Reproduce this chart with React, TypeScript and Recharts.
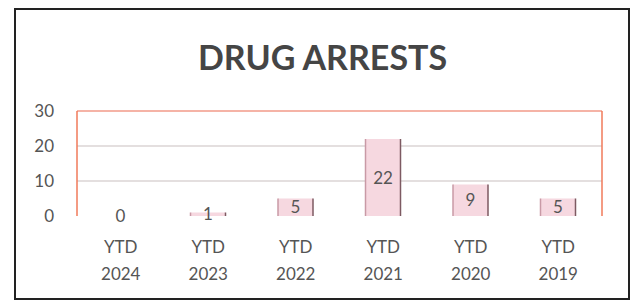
import { BarChart, Bar, XAxis, YAxis, CartesianGrid, ReferenceLine, LabelList } from "recharts";

const years = ["2024", "2023", "2022", "2021", "2020", "2019"];
const prefix = "YTD";
const arrests = [0, 1, 5, 22, 9, 5];
const yTicks = [0, 10, 20, 30];

const data = years.map((y, i) => ({ year: y, arrests: arrests[i] }));

const FONT = "Lato, 'Open Sans', sans-serif";
const TEXT = "#555555";
const ORANGE = "#f07a5a";

function YearTick({ x, y, payload }: any) {
  return (
    <text x={x} y={y} textAnchor="middle" fill={TEXT} fontFamily={FONT} fontSize={17}>
      <tspan x={x} dy={29}>{prefix}</tspan>
      <tspan x={x} dy={27}>{payload.value}</tspan>
    </text>
  );
}

function PinkBar({ x, y, width, height }: any) {
  if (!height || height <= 0) return <g />;
  return (
    <g>
      <rect x={x} y={y} width={width} height={height} fill="#f6d8e0" />
      <line x1={x} y1={y} x2={x} y2={y + height} stroke="#c99aa6" strokeWidth={1.5} />
      <line x1={x + width} y1={y} x2={x + width} y2={y + height} stroke="#7d5a62" strokeWidth={1.5} />
    </g>
  );
}

export default function App() {
  return (
    <div style={{ position: "fixed", left: 0, top: 0, width: 633, height: 302, background: "#fff" }}>
      <div
        style={{
          position: "absolute",
          left: 0,
          width: 633,
          top: 37,
          textAlign: "center",
          fontFamily: FONT,
          fontWeight: 700,
          fontSize: 34,
          lineHeight: "40px",
          color: "#454545",
          paddingLeft: 12,
          boxSizing: "border-box",
        }}
      >
        DRUG ARRESTS
      </div>
      <div style={{ position: "absolute", left: 0, top: 0 }}>
        <BarChart width={633} height={302} data={data} margin={{ top: 111, right: 31, bottom: 0, left: 0 }}>
          <CartesianGrid vertical={false} stroke="#c9bfbf" horizontalValues={[10, 20]} />
          <XAxis
            dataKey="year"
            height={86}
            axisLine={false}
            tickLine={false}
            tick={<YearTick />}
            interval={0}
          />
          <YAxis
            width={77}
            domain={[0, 30]}
            ticks={yTicks}
            tickSize={0}
            tickMargin={23}
            tickLine={false}
            axisLine={{ stroke: ORANGE, strokeWidth: 1.5 }}
            tick={{ fill: TEXT, fontFamily: FONT, fontSize: 17 }}
          />
          <ReferenceLine y={30} stroke="#f29a88" strokeWidth={1.5} />
          <ReferenceLine x="2019" position="end" stroke={ORANGE} strokeWidth={1.5} />
          <Bar dataKey="arrests" barSize={35} shape={<PinkBar />} isAnimationActive={false}>
            <LabelList
              dataKey="arrests"
              position="center"
              fill={TEXT}
              fontFamily={FONT}
              fontSize={17}
            />
          </Bar>
        </BarChart>
      </div>
      <div
        style={{
          position: "absolute",
          left: 14,
          top: 8,
          width: 616,
          height: 292,
          border: "2px solid #222",
          boxSizing: "border-box",
          pointerEvents: "none",
        }}
      />
    </div>
  );
}
